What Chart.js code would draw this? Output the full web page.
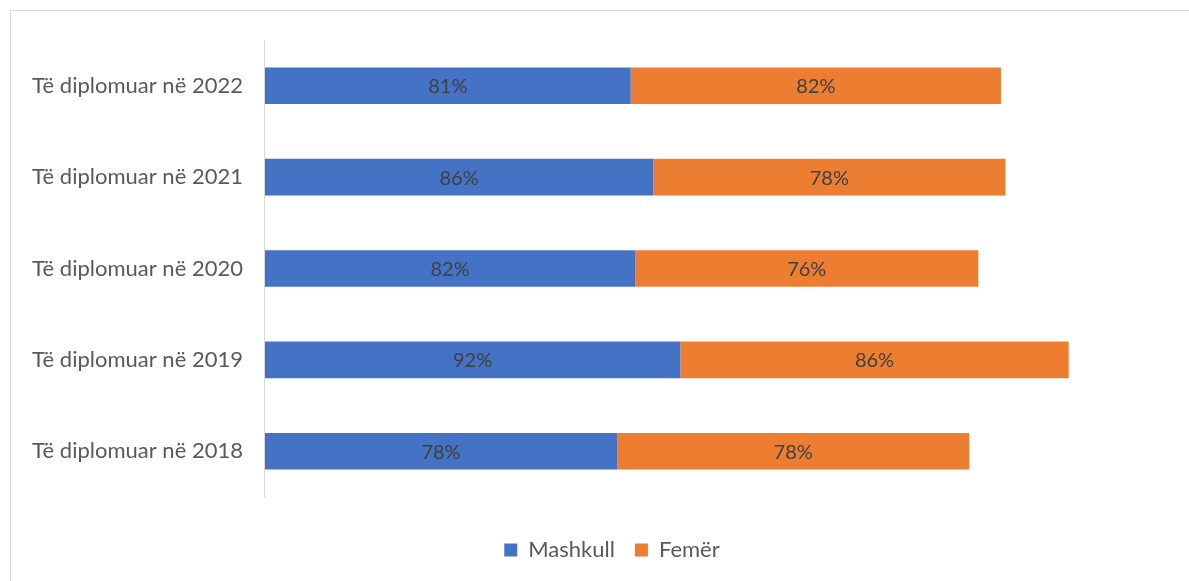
<!DOCTYPE html>
<html>
<head>
<meta charset="utf-8">
<script src="https://cdn.jsdelivr.net/npm/chart.js@4"></script>
<style>
    html, body { margin: 0; padding: 0; background: #fff; }
    #frame { position: absolute; left: 10px; top: 10px; width: 1200px; height: 600px; border: 1px solid #d9d9d9; box-sizing: border-box; }
    #wrap { position: absolute; left: 0; top: 0; width: 1189px; height: 581px; }
</style>
</head>
<body>
<div id="frame"></div>
<div id="wrap"><canvas id="chart"></canvas></div>
<script>
var categories = ['Të diplomuar në 2022', 'Të diplomuar në 2021', 'Të diplomuar në 2020', 'Të diplomuar në 2019', 'Të diplomuar në 2018'];
var maleValues = [81, 86, 82, 92, 78];
var femaleValues = [82, 78, 76, 86, 78];

// draws the percentage in the middle of each bar
var barLabels = {
    id: 'barLabels',
    afterDatasetsDraw: function (chart) {
        var ctx = chart.ctx;
        ctx.save();
        ctx.font = '20px Lato';
        ctx.fillStyle = '#404040';
        ctx.textAlign = 'center';
        ctx.textBaseline = 'middle';
        chart.data.datasets.forEach(function (ds, i) {
            chart.getDatasetMeta(i).data.forEach(function (bar, j) {
                var p = bar.getProps(['x', 'y', 'base'], true);
                ctx.fillText(ds.data[j] + '%', (p.x + p.base) / 2, p.y + 1);
            });
        });
        ctx.restore();
    }
};

// legend sits a little right of the canvas centre in the original
var legendShift = {
    id: 'legendShift',
    afterLayout: function (chart) {
        chart.legend.left += 19;
        chart.legend.right += 19;
    }
};

var ctx = document.getElementById('chart').getContext('2d');
new Chart(ctx, {
    type: 'bar',
    data: {
        labels: categories,
        datasets: [{
            label: 'Mashkull',
            backgroundColor: '#4472c4',
            data: maleValues
        }, {
            label: 'Femër',
            backgroundColor: '#ed7d31',
            data: femaleValues
        }]
    },
    options: {
        indexAxis: 'y',
        responsive: true,
        maintainAspectRatio: false,
        animation: false,
        categoryPercentage: 1,
        barPercentage: 0.4,
        layout: { padding: { top: 40, right: 21, bottom: 10, left: 18 } },
        scales: {
            x: {
                stacked: true,
                min: 0,
                max: 200,
                grid: { display: false },
                border: { display: false },
                ticks: { display: false },
                afterFit: function (scale) { scale.height = 22; }
            },
            y: {
                stacked: true,
                grid: { display: false },
                border: { color: '#d9d9d9', width: 1 },
                ticks: {
                    color: '#595959',
                    padding: 14,
                    font: { family: 'Lato', size: 22 }
                }
            }
        },
        plugins: {
            legend: {
                position: 'bottom',
                labels: {
                    color: '#595959',
                    boxWidth: 13,
                    boxHeight: 13,
                    padding: 20,
                    font: { family: 'Lato', size: 22 }
                }
            },
            tooltip: { enabled: false }
        }
    },
    plugins: [barLabels, legendShift]
});
</script>
</body>
</html>
